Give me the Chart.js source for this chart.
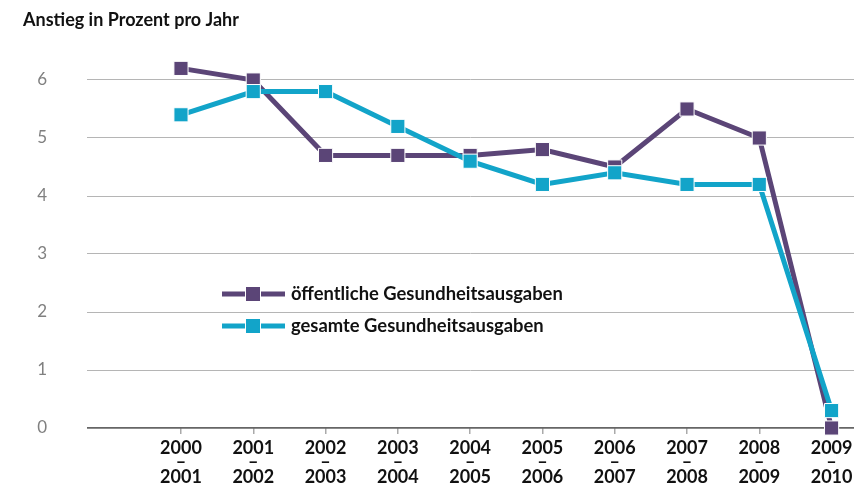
<!DOCTYPE html>
<html>
<head>
<meta charset="utf-8">
<script src="https://cdn.jsdelivr.net/npm/chart.js@4/dist/chart.umd.min.js"></script>
<style>
  html, body { margin: 0; padding: 0; background: #fff; }
  #wrap { width: 865px; height: 488px; }
</style>
</head>
<body>
<div id="wrap"><canvas id="chart"></canvas></div>
<script>
// periods (x categories)
const periods = [
    ['2000', '–', '2001'], ['2001', '–', '2002'], ['2002', '–', '2003'],
    ['2003', '–', '2004'], ['2004', '–', '2005'], ['2005', '–', '2006'],
    ['2006', '–', '2007'], ['2007', '–', '2008'], ['2008', '–', '2009'],
    ['2009', '–', '2010']
];
const oeffentliche = [6.2, 6.0, 4.7, 4.7, 4.7, 4.8, 4.5, 5.5, 5.0, 0.0];
const gesamte = [5.4, 5.8, 5.8, 5.2, 4.6, 4.2, 4.4, 4.2, 4.2, 0.3];
const yTicks = [0, 1, 2, 3, 4, 5, 6];
const seriesNames = ['öffentliche Gesundheitsausgaben', 'gesamte Gesundheitsausgaben'];
const titleText = 'Anstieg in Prozent pro Jahr';

const PURPLE = '#5b4577';
const CYAN = '#12a4c9';
const FONT = 'Lato, "Open Sans", sans-serif';

function toPoints(arr) {
    return arr.map((v, i) => ({ x: i, y: v }));
}

// title + custom legend
const extras = {
    id: 'extras',
    afterDraw(chart) {
        const ctx = chart.ctx;
        ctx.save();
        ctx.fillStyle = '#111';
        ctx.font = 'bold 18px ' + FONT;
        ctx.textBaseline = 'middle';
        ctx.textAlign = 'left';
        ctx.fillText(titleText, 23, 20);

        const items = [
            { name: seriesNames[0], color: PURPLE, y: 294 },
            { name: seriesNames[1], color: CYAN, y: 326 }
        ];
        items.forEach(it => {
            ctx.strokeStyle = it.color;
            ctx.lineWidth = 5;
            ctx.beginPath();
            ctx.moveTo(222, it.y);
            ctx.lineTo(285, it.y);
            ctx.stroke();
            ctx.fillStyle = it.color;
            ctx.fillRect(246, it.y - 7, 14, 14);
            ctx.strokeStyle = '#fff';
            ctx.lineWidth = 1;
            ctx.strokeRect(245.5, it.y - 7.5, 15, 15);
            ctx.fillStyle = '#111';
            ctx.font = 'bold 18.4px ' + FONT;
            ctx.fillText(it.name, 291, it.y);
        });
        ctx.restore();
    }
};

const data = {
    datasets: [{
        label: seriesNames[0],
        data: toPoints(oeffentliche),
        borderColor: PURPLE,
        backgroundColor: PURPLE,
        borderWidth: 5,
        pointStyle: 'rect',
        pointRadius: 10,
        pointBorderColor: '#fff',
        pointBorderWidth: 1,
        order: 1
    }, {
        label: seriesNames[1],
        data: toPoints(gesamte),
        borderColor: CYAN,
        backgroundColor: CYAN,
        borderWidth: 5,
        pointStyle: 'rect',
        pointRadius: 10,
        pointBorderColor: '#fff',
        pointBorderWidth: 1,
        order: 0
    }]
};

const config = {
    type: 'line',
    data,
    options: {
        responsive: true,
        maintainAspectRatio: false,
        animation: false,
        clip: false,
        layout: { padding: { top: 62.6, left: 0, right: 0, bottom: 0 } },
        plugins: { legend: { display: false }, tooltip: { enabled: false }, title: { display: false } },
        scales: {
            x: {
                type: 'linear',
                min: -1.30,
                max: 9.31,
                afterBuildTicks: s => { s.ticks = periods.map((p, i) => ({ value: i })); },
                afterFit: s => { s.height = 60; },
                border: { display: false },
                grid: { drawOnChartArea: false, drawTicks: true, tickLength: 6, color: '#aaa', lineWidth: 1.5 },
                ticks: {
                    autoSkip: false,
                    maxRotation: 0,
                    padding: 7,
                    color: '#111',
                    font: { family: FONT, size: 18, weight: 'bold', lineHeight: 0.8 },
                    callback: v => periods[v]
                }
            },
            y: {
                min: 0,
                max: 6.3,
                afterBuildTicks: s => { s.ticks = yTicks.map(v => ({ value: v })); },
                afterFit: s => { s.width = 87; },
                border: { display: false },
                grid: {
                    drawTicks: false,
                    color: c => c.tick && c.tick.value === 0 ? '#666' : '#b5b5b5',
                    lineWidth: c => c.tick && c.tick.value === 0 ? 1.8 : 1
                },
                ticks: {
                    padding: 40,
                    color: '#808080',
                    font: { family: FONT, size: 17 }
                }
            }
        }
    },
    plugins: [extras]
};

new Chart(document.getElementById('chart'), config);
</script>
</body>
</html>
